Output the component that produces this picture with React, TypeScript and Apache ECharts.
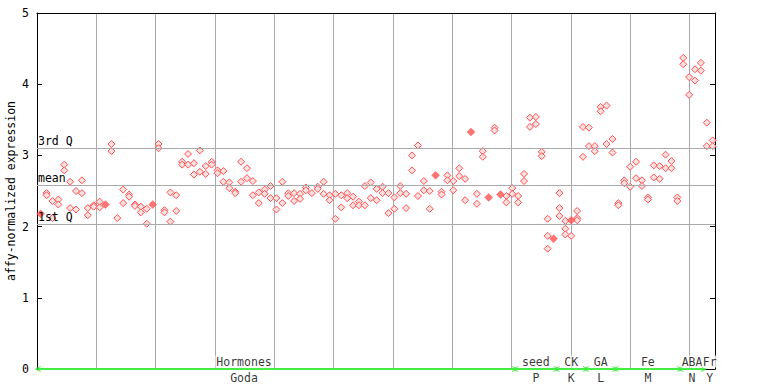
import React, { useEffect, useRef } from "react";
import * as echarts from "echarts";

// ---- data ----
const yTicks = [0, 1, 2, 3, 4, 5];
const firstQ = 2.04;
const meanValue = 2.584;
const thirdQ = 3.104;
const quartileNames = ["3rd Q", "mean", "1st Q"];

const sectionNames = ["Hormones", "seed", "CK", "GA", "Fe", "ABA", "Fr"];
const sectionCodes = ["Goda", "P", "K", "L", "M", "N", "Y"];
const sectionStart = [0, 81, 88, 93, 98, 109, 113];
const sectionEnd = [80, 87, 92, 97, 108, 112, 114];
const sectionLabelAt = [34.5, 84, 90, 95, 103, 110.5, 113.5];

const hormonesValues: number[][] = [
  [], [2.47, 2.44], [2.36, 2.12], [2.38, 2.31], [2.87, 2.79], [2.63, 2.26], [2.5, 2.24], [2.65, 2.47],
  [2.26, 2.16], [2.3, 2.28], [2.35, 2.27], [], [3.16, 3.06], [2.12], [2.52, 2.33], [2.45, 2.42],
  [2.31, 2.29], [2.28, 2.2], [2.25, 2.04], [], [3.16, 3.1], [2.23, 2.2], [2.48, 2.07], [2.44, 2.22],
  [2.91, 2.87], [3.02, 2.87], [2.89, 2.73], [3.07, 2.77], [2.85, 2.74], [2.91, 2.87], [2.79, 2.75],
  [2.78, 2.63], [2.62, 2.54], [2.49, 2.47], [2.91, 2.63], [2.82, 2.68], [2.64, 2.44], [2.48, 2.33],
  [2.52, 2.46], [2.57, 2.4], [2.4, 2.24], [2.63, 2.33], [2.47, 2.43], [2.47, 2.36], [2.46, 2.39],
  [2.55, 2.51], [2.47], [2.56, 2.53], [2.63, 2.46], [2.44, 2.37], [2.46, 2.11], [2.44, 2.27],
  [2.47, 2.4], [2.42, 2.3], [2.35, 2.3], [2.57, 2.3], [2.62, 2.4], [2.53, 2.37], [2.56, 2.47],
  [2.47, 2.19], [2.41, 2.25], [2.57, 2.47], [2.46, 2.26], [3.0, 2.79], [3.14, 2.43], [2.64, 2.51],
  [2.5, 2.25], [], [2.49, 2.45], [2.72, 2.65], [2.64, 2.51], [2.82, 2.71], [2.67, 2.37], [],
  [2.46, 2.32], [3.06, 2.98], [], [3.39, 3.35], [], [2.43, 2.34], [2.54, 2.46],
];
const seedValues: number[][] = [
  [2.43, 2.34], [2.74, 2.64], [3.53, 3.4], [3.54, 3.44], [3.05, 2.99], [2.11, 1.87, 1.69], [],
];
const ckValues: number[][] = [
  [2.47, 2.26, 2.15], [2.08, 1.97, 1.89], [1.87], [2.22, 2.12, 2.09], [3.4, 2.98],
];
const gaValues: number[][] = [
  [3.39, 3.13], [3.13, 3.06], [3.68, 3.62], [3.7, 3.16], [3.23, 3.04],
];
const feValues: number[][] = [
  [2.33, 2.3], [2.65, 2.61], [2.84, 2.56], [2.91, 2.68], [2.65, 2.57], [2.41, 2.38],
  [2.86, 2.69], [2.85, 2.67], [3.01, 2.82], [2.92, 2.82], [2.41, 2.36],
];
const abaValues: number[][] = [[4.37, 4.28], [4.1, 3.85], [4.21, 4.05], [4.3, 4.19]];
const frValues: number[][] = [[3.46, 3.13], [3.21, 3.13]];

const solidSamples = [0, 11, 19, 67, 73, 76, 78, 87, 90];
const solidValues = [2.18, 2.31, 2.31, 2.72, 3.33, 2.41, 2.45, 1.83, 2.09];

// ---- layout / style ----
const X_MIN = -0.62;
const X_MAX = 114.39;
const GRID_STEP = 10.066;
const FONT = "DejaVu Sans Mono";
const RED = "#ff5050";
const GRAY = "#aaaaaa";
const GREEN = "#44ee44";
const CHEVRON = "path://M0,10L5,0L10,10L8.3,10L5,3.4L1.7,10Z";

export default function App() {
  const ref = useRef<HTMLDivElement>(null);
  useEffect(() => {
    if (!ref.current) return;
    const chart = echarts.init(ref.current, null, { renderer: "svg" });

    const allSamples = [
      ...hormonesValues, ...seedValues, ...ckValues, ...gaValues, ...feValues, ...abaValues, ...frValues,
    ];
    const hollow: number[][] = [];
    allSamples.forEach((vals, i) => vals.forEach((v) => hollow.push([i, v])));
    const solid = solidSamples.map((s, i) => [s, solidValues[i]]);

    const option: any = {
      animation: false,
      backgroundColor: "#fff",
      grid: { left: 37, right: 53, top: 13, bottom: 15, containLabel: false, outerBoundsMode: "none" },
      xAxis: [
        {
          type: "value", min: X_MIN, max: X_MAX, position: "bottom",
          axisLine: { show: true, onZero: false, lineStyle: { color: "#000", width: 1 } },
          axisTick: { show: false }, axisLabel: { show: false }, splitLine: { show: false },
        },
        {
          type: "value", min: 0, max: (X_MAX - X_MIN) / GRID_STEP, interval: 1, position: "top",
          axisLine: { show: true, onZero: false, lineStyle: { color: "#000", width: 1 } },
          axisTick: { show: false }, axisLabel: { show: false },
          splitLine: { show: true, lineStyle: { color: GRAY, width: 1 } },
        },
      ],
      yAxis: [
        {
          type: "value", min: yTicks[0], max: yTicks[yTicks.length - 1], interval: 1, position: "left",
          axisLine: { show: true, onZero: false, lineStyle: { color: "#000" } },
          axisTick: { show: true, inside: true, length: 5, lineStyle: { color: "#000" } },
          axisLabel: { color: "#000", fontFamily: FONT, fontSize: 11.5, margin: 8 },
          splitLine: { show: false },
          name: "affy-normalized expression", nameLocation: "middle", nameGap: 20,
          nameMoveOverlap: false,
          nameTextStyle: { color: "#000", fontFamily: FONT, fontSize: 11.5 },
        },
        {
          type: "value", min: yTicks[0], max: yTicks[yTicks.length - 1], interval: 1, position: "right",
          axisLine: { show: true, onZero: false, lineStyle: { color: "#000" } },
          axisTick: { show: true, inside: true, length: 5, lineStyle: { color: "#000" } },
          axisLabel: { show: false }, splitLine: { show: false },
        },
      ],
      series: [
        {
          type: "scatter", xAxisIndex: 0, yAxisIndex: 0, data: hollow,
          symbol: "diamond", symbolSize: 7,
          itemStyle: { color: "#ffe0e0", borderColor: RED, borderWidth: 1, opacity: 1 },
          markLine: {
            silent: true, symbol: ["none", "none"], animation: false,
            lineStyle: { color: GRAY, type: "solid", width: 1 },
            label: {
              show: true, position: "insideStartTop", formatter: "{b}", color: "#000",
              fontFamily: FONT, fontSize: 11.5, distance: [1, 1], padding: 0,
            },
            data: [
              { yAxis: thirdQ, name: quartileNames[0] },
              { yAxis: meanValue, name: quartileNames[1] },
              { yAxis: firstQ, name: quartileNames[2] },
            ],
          },
          z: 3,
        },
        {
          type: "scatter", xAxisIndex: 0, yAxisIndex: 0, data: solid,
          symbol: "diamond", symbolSize: 8,
          itemStyle: { color: RED, borderColor: RED, borderWidth: 0.5 },
          z: 4,
        },
        {
          type: "scatter", xAxisIndex: 0, yAxisIndex: 0,
          data: sectionLabelAt.map((x) => [x, 0]),
          symbolSize: 1, itemStyle: { color: "rgba(0,0,0,0)" }, silent: true, clip: false,
          label: {
            show: true, position: "top", distance: 1,
            formatter: (p: any) => sectionNames[p.dataIndex],
            color: "#000", fontFamily: FONT, fontSize: 11.5,
            backgroundColor: "#fff", padding: [0, 1, 0, 1],
          },
          markLine: {
            silent: true, animation: false, symbol: [CHEVRON, CHEVRON], symbolSize: [6, 6],
            lineStyle: { color: GREEN, width: 2, type: "solid" },
            itemStyle: { color: GREEN },
            label: { show: false },
            data: sectionStart.map((s, i) => [
              { coord: [s - 0.5, 0] },
              { coord: [sectionEnd[i] + 0.5, 0] },
            ]),
          },
          z: 5,
        },
        {
          type: "scatter", xAxisIndex: 0, yAxisIndex: 0,
          data: sectionLabelAt.map((x) => [x, 0]),
          symbolSize: 1, itemStyle: { color: "rgba(0,0,0,0)" }, silent: true, clip: false,
          label: {
            show: true, position: "bottom", distance: 2,
            formatter: (p: any) => sectionCodes[p.dataIndex],
            color: "#000", fontFamily: FONT, fontSize: 11.5,
          },
          z: 5,
        },
      ],
    };
    chart.setOption(option);
    return () => chart.dispose();
  }, []);

  return (
    <div
      ref={ref}
      style={{ position: "fixed", left: 0, top: 0, width: 768, height: 384, background: "#fff" }}
    />
  );
}
